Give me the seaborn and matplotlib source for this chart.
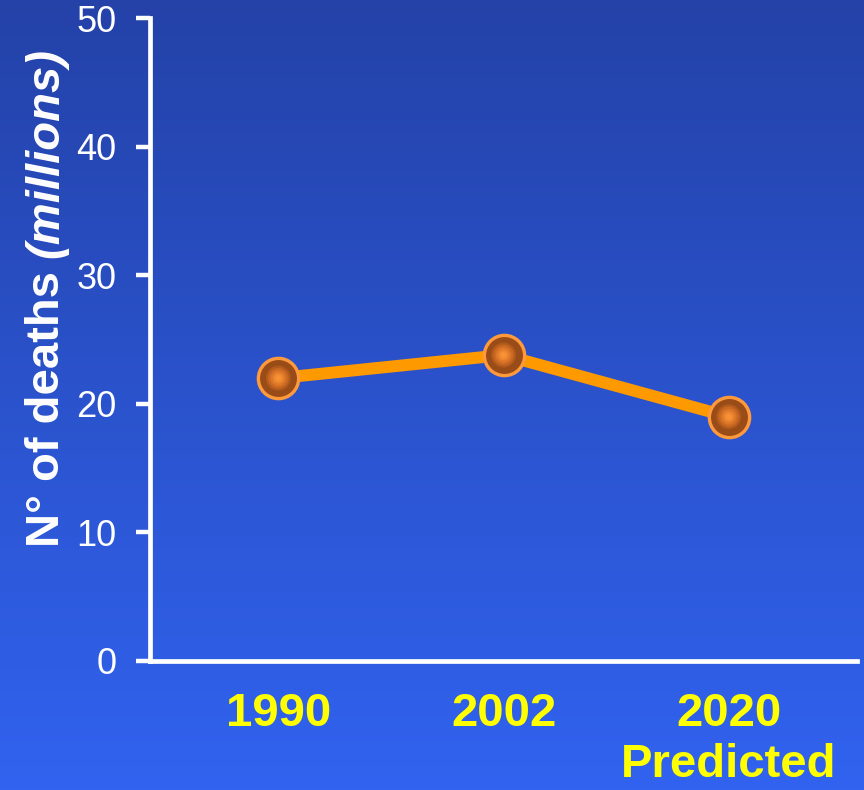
import numpy as np
import pandas as pd
import matplotlib
matplotlib.use("Agg")
import matplotlib.pyplot as plt
import seaborn as sns

years = ["1990", "2002", "2020"]
deaths = [22.0, 23.8, 19.0]
xtick_labels = ["1990", "2002", "2020\nPredicted"]
yticks = [0, 10, 20, 30, 40, 50]

sns.set_theme(style="white")
plt.rcParams['font.family'] = ['Liberation Sans', 'DejaVu Sans']

fig = plt.figure(figsize=(8.64, 7.90), dpi=100)

# gradient background
bg = fig.add_axes([0, 0, 1, 1], zorder=-10)
top = np.array([36, 66, 168]) / 255
bot = np.array([49, 99, 240]) / 255
t = np.linspace(0, 1, 256)[:, None]
grad = top[None, :] * (1 - t) + bot[None, :] * t
bg.imshow(grad[:, None, :], aspect='auto', extent=[0, 1, 0, 1])
bg.set_axis_off()

ax = fig.add_axes([0.1736, 0.1633, 0.992 - 0.1736, 0.977 - 0.1633])
ax.patch.set_alpha(0)

df = pd.DataFrame({"year": years, "deaths": deaths})
sns.lineplot(data=df, x="year", y="deaths", ax=ax, color="#ff9900",
             linewidth=8.6, marker="o", markersize=29,
             markerfacecolor="#9a4c18", markeredgecolor="#ff9a3c",
             markeredgewidth=2.4, sort=False, zorder=3)
# inner highlights for a radial look
for s, c in [(320, "#b05a1c"), (220, "#c86822"), (130, "#dc7628"), (60, "#ec8630"), (20, "#f89034")]:
    sns.scatterplot(data=df, x="year", y="deaths", ax=ax, s=s, color=c,
                    edgecolor="none", linewidth=0, zorder=4, legend=False)

ax.set_xlim(-0.57, 2.57)
ax.set_ylim(0, 50)
ax.set_yticks(yticks)
ax.set_yticklabels([str(v) for v in yticks], color="white", fontsize=26)
ax.set_xticks(range(len(years)))
ax.set_xticklabels(xtick_labels, color="#ffff00", fontsize=34,
                   fontweight="bold", linespacing=1.22)
ax.tick_params(axis='y', length=10, width=3.2, color="white", pad=14, left=True)
ax.tick_params(axis='x', length=0, pad=22)
for lbl in ax.get_xticklabels():
    lbl.set_horizontalalignment("center")

for side in ["top", "right"]:
    ax.spines[side].set_visible(False)
for side in ["left", "bottom"]:
    ax.spines[side].set_color("white")
    ax.spines[side].set_linewidth(3.4)
ax.set_xlabel("")
ax.set_ylabel("")
ax.grid(False)

# y label: bold + bold italic part
fig.canvas.draw()
r = fig.canvas.get_renderer()
t1 = fig.text(0.054, 1 - 547 / 790, "N° of deaths ", rotation=90,
              color="white", fontsize=34, fontweight="bold",
              ha="center", va="bottom")
ext = t1.get_window_extent(renderer=r)
y2 = ext.y1 / fig.bbox.height
fig.text(0.054, y2, "(millions)", rotation=90, color="white", fontsize=34,
         fontweight="bold", fontstyle="italic", ha="center", va="bottom")

fig.savefig("out.png", dpi=100)
